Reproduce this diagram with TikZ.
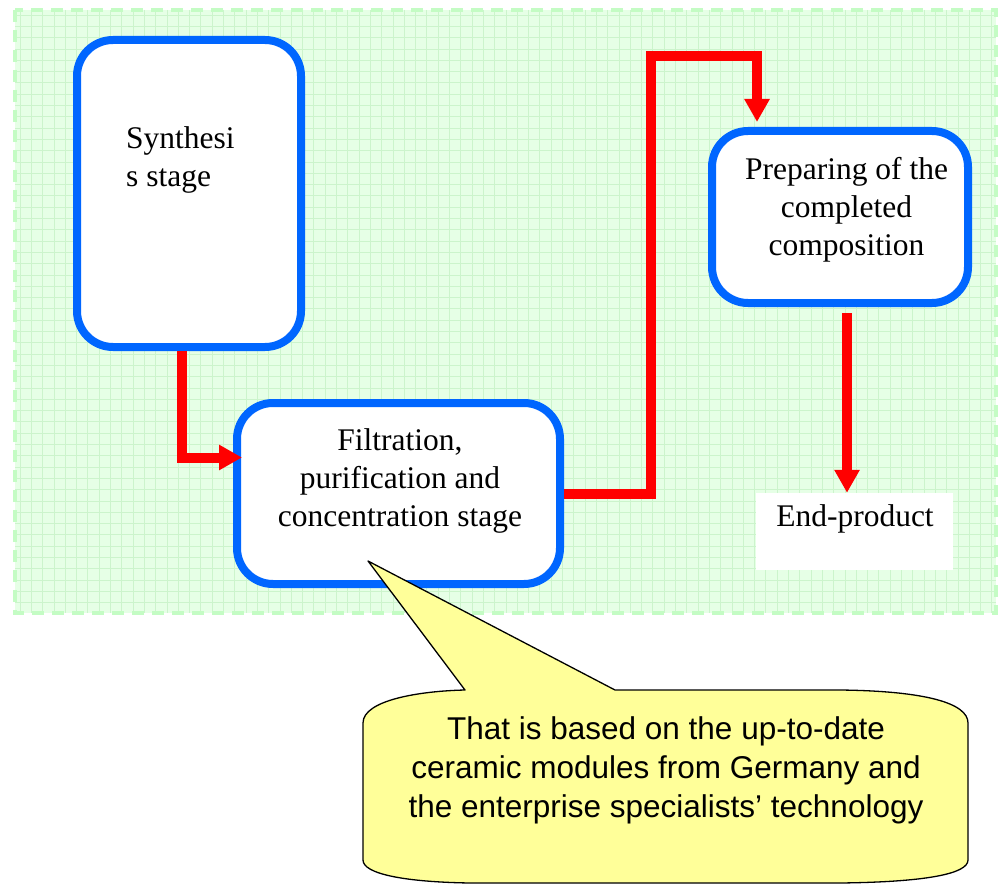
\documentclass[tikz,border=0pt]{standalone}
\usepackage{fontspec}
\setmainfont{Liberation Serif}
\newfontfamily\calloutfont{Liberation Sans}
\usetikzlibrary{arrows.meta}
\definecolor{bgc}{HTML}{E6FFE6}
\definecolor{gridc}{HTML}{CCF4CC}
\definecolor{dashc}{HTML}{C4FCC4}
\definecolor{boxblue}{HTML}{0066FF}
\definecolor{callfill}{HTML}{FFFF99}
\begin{document}
\begin{tikzpicture}[x=1pt,y=-1pt,
  stagebox/.style={draw=boxblue, line width=8pt, fill=white, rounded corners=36pt, inner sep=0pt},
  flow/.style={draw=red, line width=10pt, -{Triangle[length=23pt,width=24pt]}},
  stagetext/.style={font=\fontsize{31.5}{38}\selectfont, align=center, inner sep=0pt},
  calltext/.style={font=\calloutfont\fontsize{31.5}{39}\selectfont, align=center, inner sep=0pt},
  gridline/.style={draw=gridc, line width=0.7pt}
]
\useasboundingbox (0,0) rectangle (998,885);
% background
\fill[bgc] (15,10) rectangle (996,613);
\foreach \gx in {20,31.3,...,996} \draw[gridline] (\gx,10) -- (\gx,613);
\foreach \gy in {15,26.3,...,613} \draw[gridline] (15,\gy) -- (996,\gy);
\draw[dashc, line width=4pt, dash pattern=on 12pt off 8pt] (15,10) rectangle (996,613);

% boxes
\node[stagebox, minimum width=224pt, minimum height=307pt] (synth) at (189,193.5) {};
\node[stagebox, minimum width=323pt, minimum height=181pt] (filt) at (398.5,493.5) {};
\node[stagebox, minimum width=256pt, minimum height=172pt] (prep) at (840,217) {};
\node[fill=white, inner sep=0pt, minimum width=197pt, minimum height=77pt] (endp) at (854.5,531.5) {};

% texts (base anchor = baseline of the last line)
\node[stagetext, align=left, anchor=base west] (synthtxt) at (126,187) {Synthesi\\s stage};
\node[stagetext, anchor=base] (filttxt) at (400,526) {Filtration,\\purification and\\concentration stage};
\node[stagetext, anchor=base] (preptxt) at (846.5,255) {Preparing of the\\completed\\composition};
\node[stagetext, anchor=base] (endtxt) at (855,526) {End-product};

% connectors
\draw[flow] ([xshift=-7pt]synth.south) |- ([xshift=9pt,yshift=36pt]filt.west);
\coordinate (up) at (651,56);
\draw[flow] (filt.east) -| (up) -| ([xshift=-83pt,yshift=5pt]prep.north);
\draw[flow] ([xshift=7pt,yshift=-6pt]prep.south) coordinate (down) -- (down |- endp.north);

% callout
\coordinate (tip) at (368,561);
\filldraw[fill=callfill, draw=black, line width=1.3pt, line join=round]
  (363,723) .. controls (363,700) and (420,691) .. (465,690)
  -- (tip) -- (615,690) -- (840,690)
  .. controls (925,691) and (968,703) .. (968,723)
  -- (968,860)
  .. controls (968,874) and (925,882) .. (840,883)
  -- (470,883)
  .. controls (405,882) and (363,874) .. (363,860) -- cycle;
\node[calltext, anchor=base] (calltxt) at (666,817) {That is based on the up-to-date\\ceramic modules from Germany and\\the enterprise specialists’ technology};
\end{tikzpicture}
\end{document}
